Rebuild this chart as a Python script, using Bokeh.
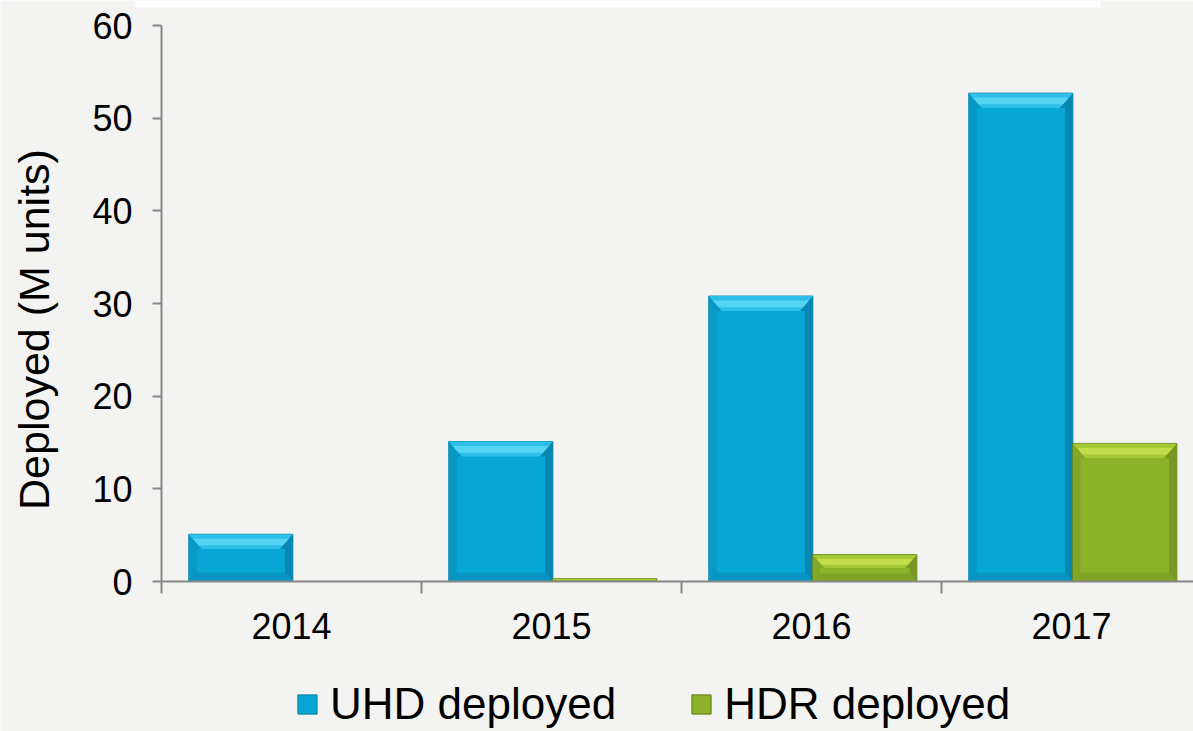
import math
from bokeh.plotting import figure
from bokeh.models import Range1d, FixedTicker, Legend, LegendItem, Label, BoxAnnotation
from bokeh.embed import file_html
from bokeh.resources import INLINE

# ---- data ----
years = ["2014", "2015", "2016", "2017"]
uhd_deployed = [5.1, 15.1, 30.8, 52.7]
hdr_deployed = [0.0, 0.3, 2.9, 14.9]
y_tick_values = [0, 10, 20, 30, 40, 50, 60]
series_labels = ["UHD deployed", "HDR deployed"]
y_title = "Deployed (M units)"

# ---- styles / layout ----
BG = "#f3f3f1"
AXIS = "#878787"
FONT = "Liberation Sans"
BLUE = dict(body="#07a6d5", top="#2ebfe8", hi="#5ad8f6", left="#0898c6",
            right="#0786b2", bottom="#0795c3", line="#0a7ca2")
GREEN = dict(body="#8db12a", top="#a6c736", hi="#c8e24e", left="#84a727",
             right="#769820", bottom="#80a225", line="#5f7b14")

W, H = 1193, 731
X0_PX, Y0_PX = 161, 581          # pixel position of the axes origin
CAT_PX = 260                     # pixels per category
Y_PX = (581 - 25) / 60           # pixels per unit on y

x_start = -X0_PX / CAT_PX
x_end = (W - X0_PX) / CAT_PX
y_end = Y0_PX / Y_PX
y_start = -(H - Y0_PX) / Y_PX

p = figure(width=W, height=H, output_backend="svg", toolbar_location=None,
           x_range=Range1d(x_start, x_end), y_range=Range1d(y_start, y_end),
           min_border=0)
p.background_fill_color = BG
p.border_fill_color = BG
p.outline_line_color = None
p.grid.visible = False

# white strip at the top of the slide
p.add_layout(BoxAnnotation(left=135, right=1100, top=H, bottom=H - 7,
                           left_units="screen", right_units="screen",
                           top_units="screen", bottom_units="screen",
                           fill_color="white", fill_alpha=1, line_color=None,
                           level="underlay"))

BAR_W = 0.4
n = len(years)
uhd_x = [i + 0.305 for i in range(n)]
hdr_x = [i + 0.705 for i in range(n)]

BX, BY = 0.05, 1.6        # bevel size (x in categories, y in units)


def draw_bars(xs, vals, c):
    r = p.vbar(x=xs, top=vals, width=BAR_W, bottom=0, fill_color=c["body"],
               line_color=c["line"], line_width=1)
    tops_x, tops_y, lefts_x, lefts_y = [], [], [], []
    rights_x, rights_y, bots_x, bots_y, hi_x, hi_y = [], [], [], [], [], []
    for cx, v in zip(xs, vals):
        if v <= 0:
            continue
        x0, x1 = cx - BAR_W / 2, cx + BAR_W / 2
        d = min(BY, v / 2)
        dx = BX * d / BY
        db = d * 0.6
        dbx = dx * 0.6
        tops_x.append([x0, x1, x1 - dx, x0 + dx]); tops_y.append([v, v, v - d, v - d])
        hi_x.append([x0 + dx * 0.3, x1 - dx * 0.3, x1 - dx * 0.75, x0 + dx * 0.75])
        hi_y.append([v - d * 0.3, v - d * 0.3, v - d * 0.75, v - d * 0.75])
        lefts_x.append([x0, x0 + dbx, x0 + dbx, x0 + dx, x0])
        lefts_y.append([0, db, v - d, v - d, v])
        rights_x.append([x1, x1 - dbx, x1 - dbx, x1 - dx, x1])
        rights_y.append([0, db, v - d, v - d, v])
        bots_x.append([x0, x1, x1 - dbx, x0 + dbx]); bots_y.append([0, 0, db, db])
    p.patches(lefts_x, lefts_y, fill_color=c["left"], line_color=None)
    p.patches(rights_x, rights_y, fill_color=c["right"], line_color=None)
    p.patches(bots_x, bots_y, fill_color=c["bottom"], line_color=None)
    p.patches(tops_x, tops_y, fill_color=c["top"], line_color=None)
    p.patches(hi_x, hi_y, fill_color=c["hi"], line_color=None, fill_alpha=0.85)
    return r


r_uhd = draw_bars(uhd_x, uhd_deployed, BLUE)
r_hdr = draw_bars(hdr_x, hdr_deployed, GREEN)

# ---- x axis (drawn at y = 0) ----
xa = p.xaxis[0]
xa.fixed_location = 0
xa.bounds = (0, x_end)
xa.ticker = FixedTicker(ticks=[i + 0.5 for i in range(n)],
                        minor_ticks=list(range(n + 1)))
xa.major_label_overrides = {i + 0.5: y for i, y in enumerate(years)}
xa.major_tick_out = 0
xa.major_tick_in = 0
xa.minor_tick_out = 12
xa.minor_tick_in = 0
xa.minor_tick_line_color = AXIS
xa.minor_tick_line_width = 2
xa.axis_line_color = AXIS
xa.axis_line_width = 2
xa.major_label_text_font = FONT
xa.major_label_text_font_size = "36px"
xa.major_label_text_color = "black"
xa.major_label_standoff = 19

# ---- y axis (drawn at x = 0) ----
ya = p.yaxis[0]
ya.fixed_location = 0
ya.bounds = (y_tick_values[0], y_tick_values[-1])
ya.ticker = FixedTicker(ticks=y_tick_values, minor_ticks=[])
ya.major_tick_out = 9
ya.major_tick_in = 0
ya.major_tick_line_color = AXIS
ya.major_tick_line_width = 2
ya.axis_line_color = AXIS
ya.axis_line_width = 2
ya.major_label_text_font = FONT
ya.major_label_text_font_size = "36px"
ya.major_label_text_color = "black"
ya.major_label_standoff = 20

# y title
p.add_layout(Label(text=y_title, x=33, y=H - 329, x_units="screen", y_units="screen",
                   angle=math.pi / 2, text_align="center", text_baseline="middle",
                   text_font=FONT, text_font_size="43px", text_color="black"))

# ---- legend ----
legend = Legend(items=[LegendItem(label=series_labels[0], renderers=[r_uhd]),
                       LegendItem(label=series_labels[1], renderers=[r_hdr])],
                orientation="horizontal", location=(295, 2),
                glyph_width=24, glyph_height=24, label_standoff=11, spacing=73,
                padding=0, margin=0, border_line_color=None,
                background_fill_alpha=0, label_text_font=FONT,
                label_text_font_size="44px", label_text_color="black")
p.add_layout(legend, "center")

open("out.html", "w").write(file_html(p, INLINE))
